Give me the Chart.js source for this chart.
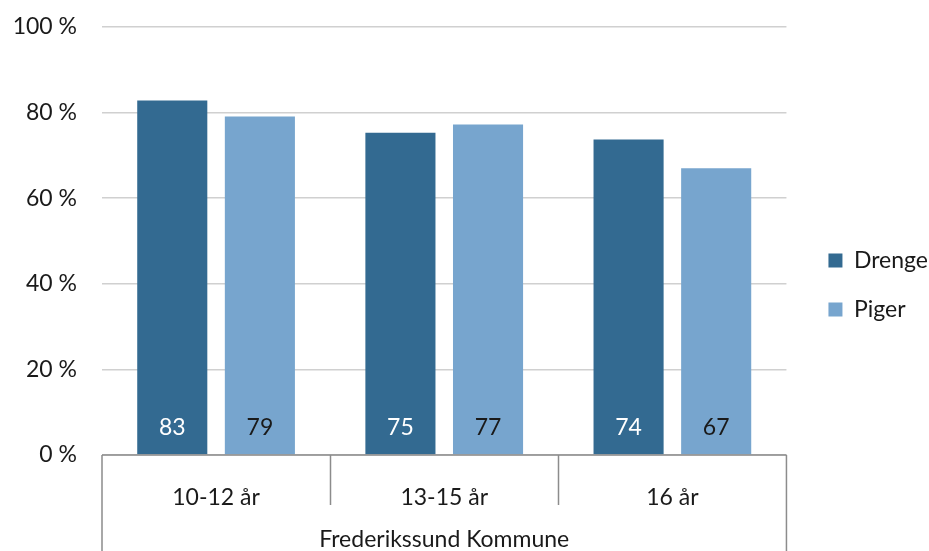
<!DOCTYPE html>
<html>
<head>
<meta charset="utf-8">
<script src="https://cdn.jsdelivr.net/npm/chart.js@4/dist/chart.umd.min.js"></script>
<style>
  body { margin: 0; background: #fff; }
  #wrap { width: 929px; height: 551px; }
</style>
</head>
<body>
<div id="wrap"><canvas id="chart" width="929" height="551"></canvas></div>
<script>
const ageGroups = ["10-12 år", "13-15 år", "16 år"];
const groupTitle = "Frederikssund Kommune";
const drenge = [82.8, 75.3, 73.7];
const piger = [79.1, 77.2, 67.0];
const yTicks = [0, 20, 40, 60, 80, 100];

const FONT = "Lato, 'Open Sans', sans-serif";
const FSIZE = 23;
const axisGray = "#8c8c8c";

// value labels at the foot of each bar + the boxed category axis
const barLabels = {
    id: "barLabels",
    afterLayout(chart){
        // nudge the legend a bit right/up, like the original
        const lg = chart.legend;
        lg.left += 16; lg.right += 16;
        lg.top -= 4; lg.bottom -= 4;
    },
    afterDatasetsDraw(chart){
        const ctx = chart.ctx;
        ctx.save();
        ctx.font = FSIZE + "px " + FONT;
        ctx.textAlign = "center";
        ctx.textBaseline = "middle";
        chart.data.datasets.forEach((ds, di) => {
            const meta = chart.getDatasetMeta(di);
            meta.data.forEach((bar, i) => {
                ctx.fillStyle = di === 0 ? "#ffffff" : "#1a1a1a";
                ctx.fillText(Math.round(ds.data[i]), bar.x, chart.chartArea.bottom - 27);
            });
        });
        ctx.restore();
    },
    afterDraw(chart){
        const ctx = chart.ctx;
        const area = chart.chartArea;
        const x = chart.scales.x;
        ctx.save();
        ctx.strokeStyle = axisGray;
        ctx.lineWidth = 1.5;
        ctx.beginPath();
        ctx.moveTo(area.left, area.bottom);
        ctx.lineTo(area.right, area.bottom);
        ctx.moveTo(area.left, area.bottom);
        ctx.lineTo(area.left, chart.height);
        ctx.moveTo(area.right, area.bottom);
        ctx.lineTo(area.right, chart.height);
        for(let i = 0; i < ageGroups.length - 1; i++){
            const bx = Math.round((x.getPixelForValue(i) + x.getPixelForValue(i + 1)) / 2) + 0.5;
            ctx.moveTo(bx, area.bottom);
            ctx.lineTo(bx, area.bottom + 50);
        }
        ctx.stroke();
        // outer group label
        ctx.fillStyle = "#1a1a1a";
        ctx.font = FSIZE + "px " + FONT;
        ctx.textAlign = "center";
        ctx.textBaseline = "middle";
        ctx.fillText(groupTitle, (area.left + area.right) / 2, area.bottom + 85);
        ctx.restore();
    }
};

new Chart(document.querySelector("#chart"), {
    type: "bar",
    data: {
        labels: ageGroups,
        datasets: [
            { label: "Drenge", data: drenge, backgroundColor: "#336a91" },
            { label: "Piger", data: piger, backgroundColor: "#77a5ce" }
        ]
    },
    options: {
        responsive: false,
        animation: false,
        layout: { padding: { top: 27, right: 7, bottom: 0, left: 0 } },
        categoryPercentage: 0.768,
        barPercentage: 0.8,
        plugins: {
            legend: {
                position: "right",
                align: "center",
                labels: {
                    boxWidth: 14,
                    boxHeight: 14,
                    padding: 26,
                    color: "#1a1a1a",
                    font: { family: FONT, size: FSIZE }
                }
            },
            tooltip: { enabled: false }
        },
        scales: {
            x: {
                afterFit(scale){ scale.height = 96; },
                grid: { display: false },
                border: { display: false },
                ticks: {
                    color: "#1a1a1a",
                    padding: 21,
                    font: { family: FONT, size: FSIZE }
                }
            },
            y: {
                min: 0,
                max: 100,
                afterFit(scale){ scale.width = 102; scale.paddingTop = 14; },
                afterBuildTicks(scale){ scale.ticks = yTicks.map(v => ({ value: v })); },
                grid: { color: "#d0d0d0", lineWidth: 1.5, drawTicks: false },
                border: { display: false },
                ticks: {
                    color: "#1a1a1a",
                    padding: 25,
                    font: { family: FONT, size: FSIZE },
                    callback: v => v + " %"
                }
            }
        }
    },
    plugins: [barLabels]
});
</script>
</body>
</html>
